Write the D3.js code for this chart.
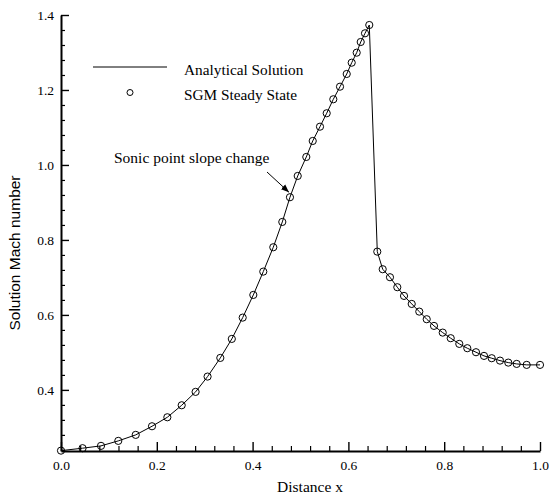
<!DOCTYPE html>
<html>
<head>
<meta charset="utf-8">
<script src="https://cdn.jsdelivr.net/npm/d3@7"></script>
<style>
  body { margin: 0; background: #fff; }
  svg { font-family: "Liberation Serif", "Times New Roman", serif; }
  .axis path, .axis line { stroke: #000; }
  .axis text { font-size: 13.5px; fill: #000; font-family: "Liberation Serif", serif; }
</style>
</head>
<body>
<div id="chartDiv"></div>
<script>
// SGM steady state samples (also traced by the analytical line)
const xVals = [0.0, 0.045, 0.0835, 0.1196, 0.156, 0.19, 0.222, 0.252, 0.281, 0.306,
  0.3326, 0.3566, 0.3793, 0.4015, 0.4223, 0.4432, 0.462, 0.478, 0.4942, 0.5121,
  0.5255, 0.5407, 0.5547, 0.5685, 0.5825, 0.5965, 0.6069, 0.6173, 0.6257, 0.6347, 0.6436,
  0.6603, 0.6716, 0.6868, 0.7021, 0.7161, 0.7322, 0.748, 0.7635, 0.7787, 0.7969,
  0.8136, 0.8315, 0.8482, 0.8664, 0.8831, 0.8992, 0.9165, 0.9338, 0.9513, 0.9722, 1.0];
const machVals = [0.238, 0.2445, 0.2507, 0.264, 0.28, 0.303, 0.327, 0.359, 0.3947, 0.4355,
  0.4853, 0.536, 0.5928, 0.6533, 0.7155, 0.7805, 0.848, 0.9139, 0.9707, 1.0213,
  1.064, 1.1021, 1.1379, 1.1752, 1.2088, 1.2427, 1.2728, 1.2995, 1.328, 1.3512, 1.3733,
  0.7688, 0.7219, 0.7005, 0.6739, 0.6507, 0.6293, 0.6088, 0.5885, 0.5707, 0.5528,
  0.5379, 0.5227, 0.5112, 0.5005, 0.4907, 0.4845, 0.4781, 0.4728, 0.4693, 0.4667, 0.4667];

const xTicks = [0, 0.2, 0.4, 0.6, 0.8, 1.0];
const yTicks = [0.4, 0.6, 0.8, 1.0, 1.2, 1.4];
const legendLabels = ["Analytical Solution", "SGM Steady State"];
const noteText = "Sonic point slope change";
const sonicIndex = 17;

const W = 549, H = 497;
const margin = { left: 61, right: 9, top: 15, bottom: 46 };

const svgObj = d3.select('#chartDiv').append('svg')
    .attr('width', W).attr('height', H);

const xScale = d3.scaleLinear().domain([0, 1]).range([margin.left, W - margin.right]);
const yScale = d3.scaleLinear().domain([0.237, 1.4]).range([H - margin.bottom, margin.top]);

const pts = xVals.map((x, i) => ({ x: x, m: machVals[i] }));

//minor ticks every 0.04
const xMinor = d3.range(0, 1.0001, 0.04).filter(v => xTicks.every(t => Math.abs(t - v) > 1e-6));
const yMinor = d3.range(0.24, 1.4001, 0.04).filter(v => yTicks.every(t => Math.abs(t - v) > 1e-6));

svgObj.append('g').attr('class', 'axis')
    .attr('transform', `translate(0,${yScale.range()[0]})`)
    .call(d3.axisBottom(xScale).tickValues(xMinor).tickSize(-5).tickSizeOuter(0).tickFormat(''))
    .call(g => g.select('.domain').remove())
    .selectAll('line').attr('stroke-width', 1.2);

svgObj.append('g').attr('class', 'axis')
    .attr('transform', `translate(${xScale.range()[0]},0)`)
    .call(d3.axisLeft(yScale).tickValues(yMinor).tickSize(-4).tickSizeOuter(0).tickFormat(''))
    .call(g => g.select('.domain').remove())
    .selectAll('line').attr('stroke-width', 1.2);

const xAxis = svgObj.append('g').attr('class', 'axis')
    .attr('transform', `translate(0,${yScale.range()[0]})`)
    .call(d3.axisBottom(xScale).tickValues(xTicks).tickSize(-9).tickSizeOuter(0)
        .tickPadding(9).tickFormat(d3.format('.1f')));
xAxis.select('.domain').attr('stroke-width', 2);
xAxis.selectAll('line').attr('stroke-width', 1.4);

const yAxis = svgObj.append('g').attr('class', 'axis')
    .attr('transform', `translate(${xScale.range()[0]},0)`)
    .call(d3.axisLeft(yScale).tickValues(yTicks).tickSize(-8).tickSizeOuter(0)
        .tickPadding(7).tickFormat(d3.format('.1f')));
yAxis.select('.domain').attr('stroke-width', 2);
yAxis.selectAll('line').attr('stroke-width', 1.4);

// axis titles
svgObj.append('text')
    .attr('x', 310).attr('y', 492)
    .attr('text-anchor', 'middle')
    .attr('font-size', 15.5)
    .text('Distance x');

svgObj.append('text')
    .attr('transform', 'translate(20,253) rotate(-90)')
    .attr('text-anchor', 'middle')
    .attr('font-family', '"Liberation Sans", Arial, sans-serif')
    .attr('font-size', 15.5)
    .text('Solution Mach number');

// analytical line
const lineGen = d3.line().x(d => xScale(d.x)).y(d => yScale(d.m));
svgObj.append('path')
    .datum(pts)
    .attr('d', lineGen)
    .attr('fill', 'none')
    .attr('stroke', '#000')
    .attr('stroke-width', 1);

// SGM circles
svgObj.append('g').selectAll('circle')
    .data(pts)
    .enter().append('circle')
    .attr('cx', d => xScale(d.x))
    .attr('cy', d => yScale(d.m))
    .attr('r', 3.6)
    .attr('fill', 'none')
    .attr('stroke', '#000')
    .attr('stroke-width', 1);

// legend
const legend = svgObj.append('g');
legend.append('line')
    .attr('x1', 93).attr('x2', 167).attr('y1', 67).attr('y2', 67)
    .attr('stroke', '#000').attr('stroke-width', 1);
legend.append('circle')
    .attr('cx', 130).attr('cy', 92.5).attr('r', 3)
    .attr('fill', 'none').attr('stroke', '#000').attr('stroke-width', 1);
legend.selectAll('text.leg')
    .data(legendLabels)
    .enter().append('text')
    .attr('class', 'leg')
    .attr('x', 184)
    .attr('y', (d, i) => 75 + i * 25)
    .attr('font-size', 15.3)
    .text(d => d);

// annotation with arrow
svgObj.append('defs').append('marker')
    .attr('id', 'arrow')
    .attr('viewBox', '0 0 10 10')
    .attr('refX', 10).attr('refY', 5)
    .attr('markerWidth', 8).attr('markerHeight', 8)
    .attr('markerUnits', 'userSpaceOnUse')
    .attr('orient', 'auto')
    .append('path').attr('d', 'M0,1 L10,5 L0,9 Z').attr('fill', '#000');

svgObj.append('text')
    .attr('x', 114).attr('y', 163)
    .attr('font-size', 15.5)
    .text(noteText);

const sonic = pts[sonicIndex];
svgObj.append('line')
    .attr('x1', 267).attr('y1', 172)
    .attr('x2', xScale(sonic.x) - 1).attr('y2', yScale(sonic.m) - 5)
    .attr('stroke', '#000').attr('stroke-width', 1)
    .attr('marker-end', 'url(#arrow)');
</script>
</body>
</html>
